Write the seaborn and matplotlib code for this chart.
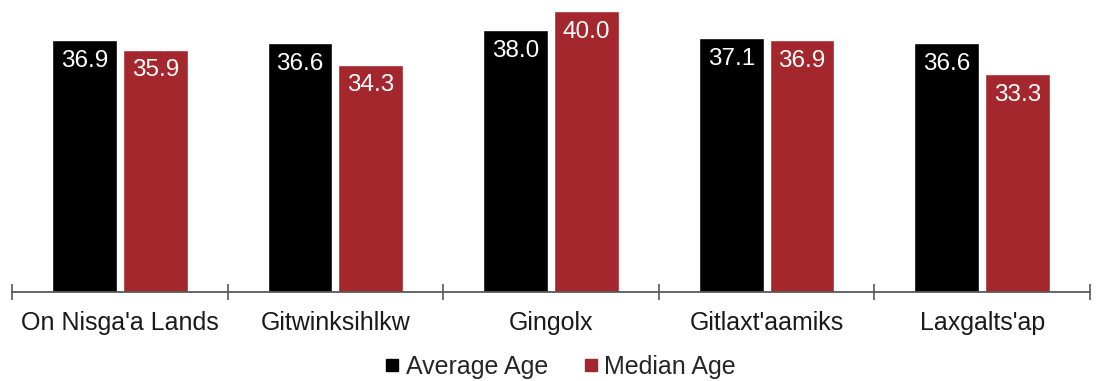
import matplotlib
matplotlib.use("Agg")
import matplotlib.pyplot as plt
import seaborn as sns
import pandas as pd
from matplotlib.lines import Line2D

communities = ["On Nisga'a Lands", "Gitwinksihlkw", "Gingolx", "Gitlaxt'aamiks", "Laxgalts'ap"]
average_age = [36.9, 36.6, 38.0, 37.1, 36.6]
median_age = [35.9, 34.3, 40.0, 36.9, 33.3]
series = ["Average Age", "Median Age"]
colors = ["#000000", "#A4272E"]

df = pd.DataFrame({
    "Community": communities * 2,
    "Measure": [series[0]] * len(communities) + [series[1]] * len(communities),
    "Age": average_age + median_age,
})

sns.set_theme(style="white")
plt.rcParams["font.family"] = ["Liberation Sans", "DejaVu Sans"]

fig = plt.figure(figsize=(11.01, 3.81), dpi=100)
ax = fig.add_axes([0.011, 0.234, 0.979, 0.766])

sns.barplot(data=df, x="Community", y="Age", hue="Measure", order=communities,
            hue_order=series, palette=colors, width=0.656, gap=0.085,
            saturation=1, errorbar=None, legend=False, ax=ax)

# value labels inside the top of each bar
for container in ax.containers:
    for bar in container:
        h = bar.get_height()
        ax.annotate(f"{h:.1f}", (bar.get_x() + bar.get_width() / 2, h),
                    xytext=(0, -15), textcoords="offset points",
                    ha="center", va="center", color="white", fontsize=17.5)

# value axis starts at 10
ax.set_ylim(10, 41.2)
ax.set_xlim(-0.5, len(communities) - 0.5)
ax.set_xlabel("")
ax.set_ylabel("")
ax.set_yticks([])
for s in ["top", "right", "left"]:
    ax.spines[s].set_visible(False)
ax.spines["bottom"].set_color("#595959")
ax.spines["bottom"].set_linewidth(1.3)

# category ticks sit on the boundaries between groups
ax.set_xticks([i - 0.5 for i in range(len(communities) + 1)], minor=False)
ax.set_xticklabels([])
ax.set_xticks(range(len(communities)), minor=True)
ax.set_xticklabels(communities, minor=True, fontsize=18, color="#1a1a1a")
ax.tick_params(axis="x", which="major", direction="inout", length=11, width=1.2,
               color="#595959", bottom=True)
ax.tick_params(axis="x", which="minor", length=0, pad=14, bottom=True)

handles = [Line2D([0], [0], marker="s", linestyle="none", markersize=8,
                  markerfacecolor=c, markeredgecolor=c) for c in colors]
fig.legend(handles, series, loc="center", bbox_to_anchor=(0.509, 0.037), ncol=2,
           frameon=False, fontsize=18, handletextpad=0.25, columnspacing=1.4,
           handlelength=0.6, borderpad=0.0)

fig.savefig("out.png", dpi=100)
